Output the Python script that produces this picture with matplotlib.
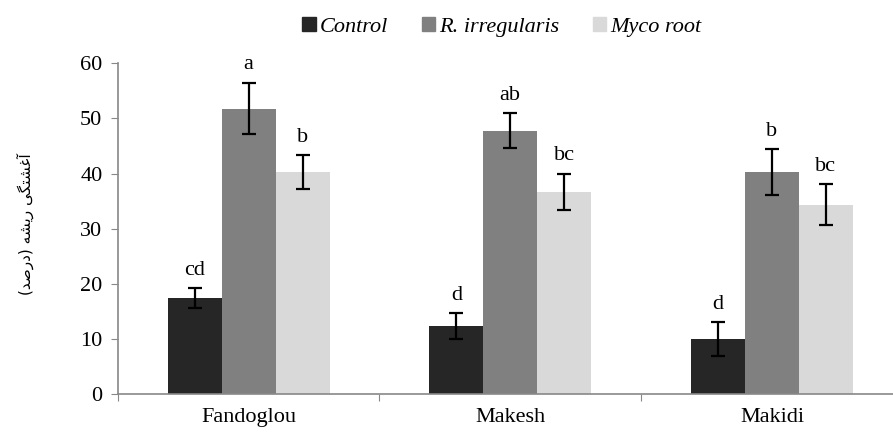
import matplotlib.pyplot as plt
import numpy as np
from matplotlib.patches import Patch

sites = ["Fandoglou", "Makesh", "Makidi"]
series = ["Control", "R. irregularis", "Myco root"]

control = [17.4, 12.4, 10.0]
control_err = [1.8, 2.3, 3.1]
r_irr = [51.8, 47.8, 40.3]
r_irr_err = [4.7, 3.2, 4.2]
myco = [40.3, 36.7, 34.4]
myco_err = [3.1, 3.3, 3.7]

letters_control = ["cd", "d", "d"]
letters_r_irr = ["a", "ab", "b"]
letters_myco = ["b", "bc", "bc"]

colors = ["#262626", "#808080", "#d9d9d9"]

# persian label in presentation forms, visual order (matplotlib does no shaping)
ylabel = ("(\ufeaa\ufebb\ufead\ufea9) "
          "\ufeea\ufeb8\ufbfe\ufead "
          "\ufbfd\ufb95\ufe98\ufeb8\ufecf\ufe81")

serif = "Liberation Serif"
fs = 16

fig = plt.figure(figsize=(8.93, 4.32), dpi=100)
ax = fig.add_axes([117.7 / 893, 1 - 394.3 / 432, 785.1 / 893, 331 / 432])

w = 0.2063
x = np.arange(len(sites)) + 0.5
offsets = [-1.5 * w, -0.5 * w, 0.5 * w]
vals = [control, r_irr, myco]
errs = [control_err, r_irr_err, myco_err]
letters = [letters_control, letters_r_irr, letters_myco]

for i in range(3):
    xi = x + offsets[i] + w / 2
    ax.bar(xi, vals[i], width=w, color=colors[i], zorder=2)
    ax.errorbar(xi, vals[i], yerr=errs[i], fmt="none", ecolor="black",
                elinewidth=1.6, capsize=5, capthick=1.6, zorder=3)
    for xx, v, e, t in zip(xi, vals[i], errs[i], letters[i]):
        ax.text(xx, v + e + 2.4, t, ha="center", va="baseline",
                fontsize=fs, family=serif)

ax.set_xlim(0, 3)
ax.set_ylim(0, 60)
ax.set_yticks(range(0, 61, 10))
ax.set_xticks([0, 1, 2, 3])
ax.set_xticklabels([])
ax.set_xticks(x, minor=True)
ax.set_xticklabels(sites, minor=True, fontsize=fs, family=serif)
ax.tick_params(axis="x", which="minor", length=0, pad=10)
ax.tick_params(axis="x", which="major", length=5, color="#888888")
ax.tick_params(axis="y", length=5, color="#888888", pad=6)
for lab in ax.get_yticklabels():
    lab.set_family(serif)
    lab.set_fontsize(fs)

for s in ["top", "right"]:
    ax.spines[s].set_visible(False)
for s in ["left", "bottom"]:
    ax.spines[s].set_color("#888888")
    ax.spines[s].set_linewidth(1.2)

fig.text(25 / 893, 1 - 224 / 432, ylabel, rotation=90, ha="center", va="center",
         fontsize=11, family=["DejaVu Sans"])

handles = [Patch(color=c) for c in colors]
fig.legend(handles, series, loc="center", bbox_to_anchor=(502 / 893, 1 - 27 / 432),
           ncol=3, frameon=False, handlelength=0.6, handleheight=0.6,
           handletextpad=0.2, columnspacing=1.5,
           prop={"family": serif, "style": "italic", "size": fs})

fig.savefig("out.png", dpi=100)
